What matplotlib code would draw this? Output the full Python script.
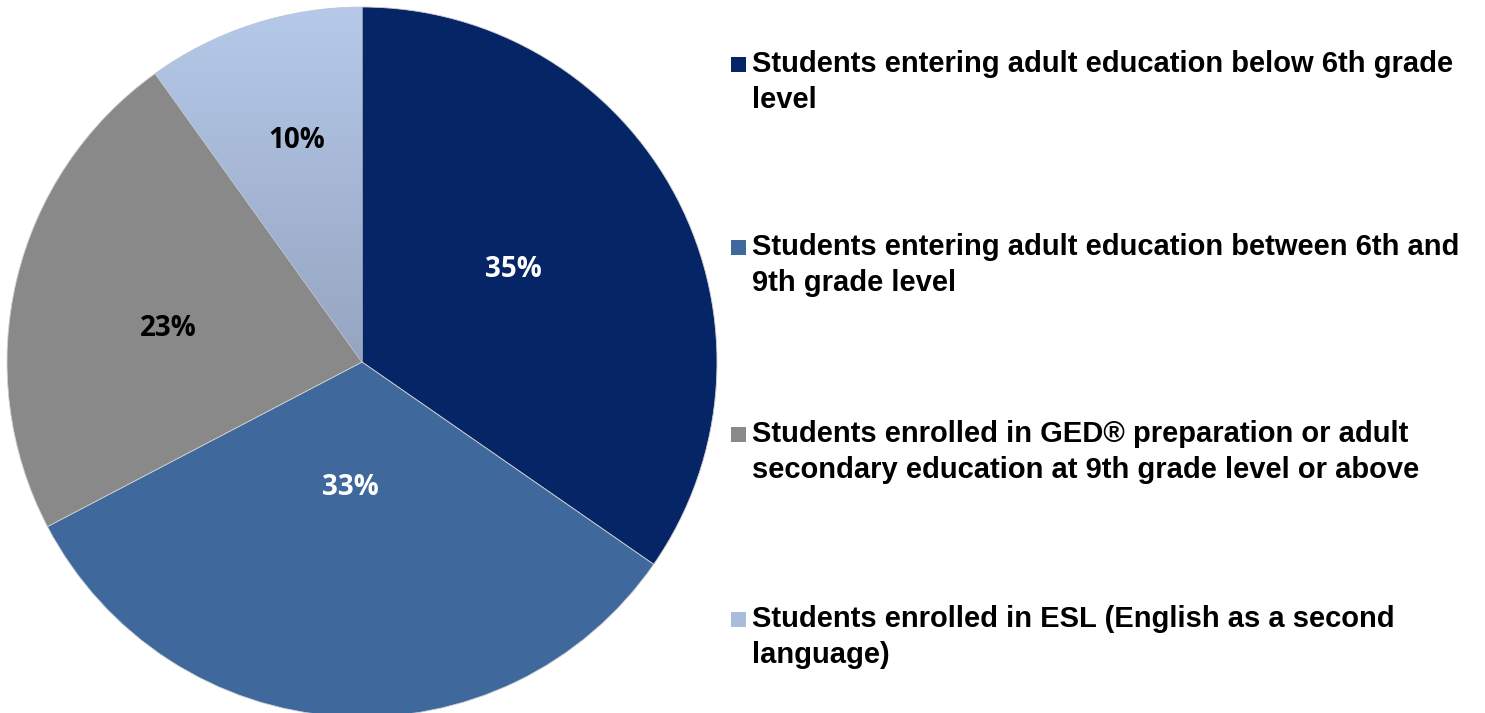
import matplotlib.pyplot as plt
import numpy as np
from matplotlib.patches import Rectangle
from matplotlib.colors import LinearSegmentedColormap

# data
categories = [
    'Students entering adult education below 6th grade\nlevel',
    'Students entering adult education between 6th and\n9th grade level',
    'Students enrolled in GED® preparation or adult\nsecondary education at 9th grade level or above',
    'Students enrolled in ESL (English as a second\nlanguage)',
]
shares = [35, 33, 23, 10]
pct_labels = ['35%', '33%', '23%', '10%']

colors = ['#062566', '#3f699c', '#898989', '#a9bcdc']
label_colors = ['white', 'white', 'black', 'black']
# label placement (radius fraction, angle tweak in degrees)
label_dist = [0.50, 0.356, 0.555, 0.65]
label_turn = [3.8, -1.8, 3.5, -1.5]

W, H = 1485, 713
fig = plt.figure(figsize=(W / 100, H / 100), dpi=100)

# pie axes: center (362, 362 from top), radius 355 px
cx, cy, r = 362, 362, 355
ax = fig.add_axes([(cx - r) / W, (H - cy - r) / H, 2 * r / W, 2 * r / H])
wedges, _ = ax.pie(shares, colors=colors, startangle=90, counterclock=False,
                   radius=1, wedgeprops=dict(linewidth=0.6, edgecolor='#d0d0d0'))

# light gradient on the ESL slice
grad = np.linspace(0, 1, 256).reshape(-1, 1)
cmap = LinearSegmentedColormap.from_list('esl', ['#95a5c1', '#b6c9e9'])
im = ax.imshow(grad, extent=[-1, 1, 0, 1], origin='lower', cmap=cmap,
               aspect='auto', zorder=wedges[3].get_zorder() + 0.1)
im.set_clip_path(wedges[3])
ax.set_xlim(-1, 1)
ax.set_ylim(-1, 1)
ax.set_aspect('equal')
ax.axis('off')

for w, txt, col, d, t in zip(wedges, pct_labels, label_colors, label_dist, label_turn):
    ang = np.deg2rad((w.theta1 + w.theta2) / 2 + t)
    ax.text(d * np.cos(ang), d * np.sin(ang), txt, ha='center', va='center',
            color=col, fontsize=20, fontweight='bold', family='Open Sans', zorder=5)

# legend drawn by hand (baseline of first line, px from top)
baselines = [73, 256, 443, 628]
line_px = 35
for w, lab, yb in zip(wedges, categories, baselines):
    fig.patches.append(Rectangle((731 / W, 1 - (yb - 1) / H), 15 / W, 15 / H,
                                 transform=fig.transFigure,
                                 facecolor=w.get_facecolor(), edgecolor='none'))
    last = yb + line_px * lab.count('\n')
    fig.text(752 / W, 1 - last / H, lab, ha='left', va='baseline',
             fontsize=21, fontweight='bold', family='Liberation Sans',
             linespacing=1.35)

fig.savefig('out.png', dpi=100)
